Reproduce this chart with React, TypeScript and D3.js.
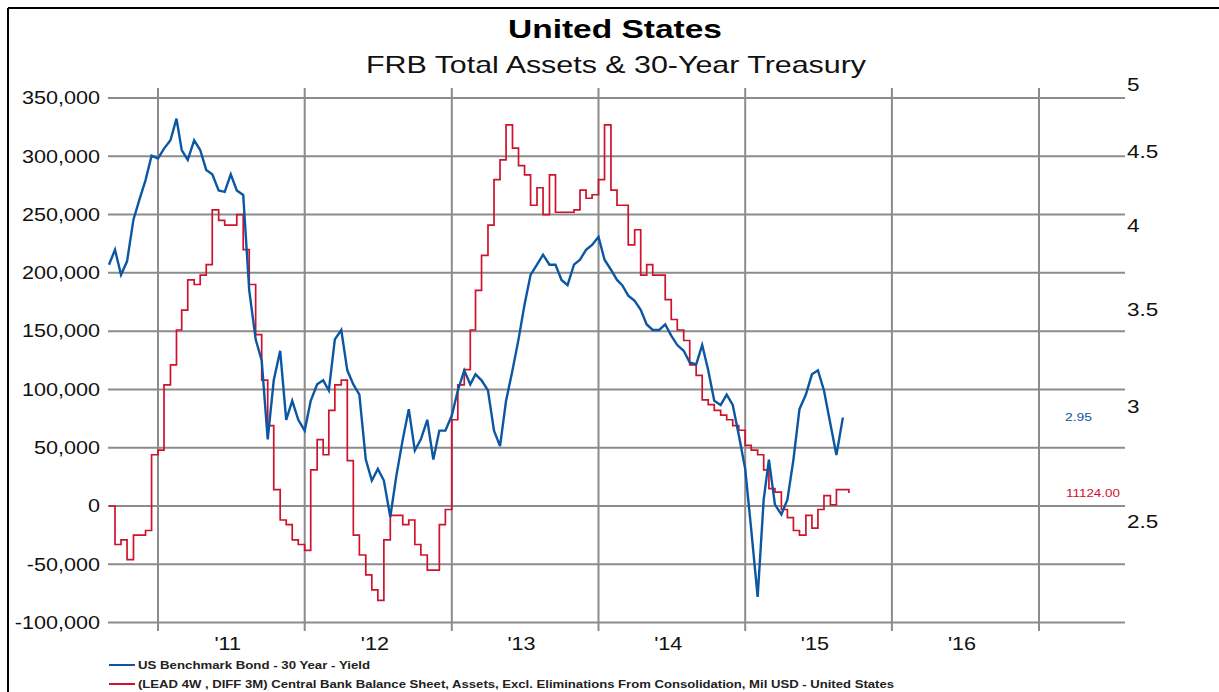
import React, { useEffect, useRef } from "react";
import * as d3 from "d3";

// semi-monthly readings (1st and 16th of each month) starting Sep 1 2010
const START_YEAR = 2010;
const START_MONTH = 8;

// US Benchmark Bond - 30 Year - Yield (right axis, %)
const yieldValues = [
  3.76, 3.85, 3.7, 3.78, 4.04, 4.17, 4.3, 4.47, 4.45, 4.52, 4.58, 4.74, 4.51, 4.44, 4.58, 4.51,
  4.37, 4.34, 4.23, 4.22, 4.34, 4.23, 4.2, 3.61, 3.34, 3.23, 2.85, 3.13, 3.28, 2.94, 3.03, 2.94,
  2.89, 3.03, 3.11, 3.13, 3.08, 3.34, 3.39, 3.18, 3.11, 3.06, 2.76, 2.67, 2.72, 2.67, 2.52, 2.69,
  2.85, 2.99, 2.8, 2.85, 2.94, 2.76, 2.89, 2.89, 2.96, 3.08, 3.18, 3.11, 3.16, 3.13, 3.08, 2.89,
  2.82, 3.03, 3.18, 3.34, 3.53, 3.7, 3.76, 3.82, 3.76, 3.76, 3.67, 3.64, 3.76, 3.79, 3.85, 3.88,
  3.93, 3.79, 3.73, 3.67, 3.64, 3.58, 3.55, 3.5, 3.42, 3.39, 3.39, 3.42, 3.36, 3.31, 3.28, 3.22,
  3.21, 3.31, 3.18, 3.03, 3.01, 3.06, 3.01, 2.87, 2.72, 2.47, 2.22, 2.59, 2.76, 2.57, 2.53, 2.59,
  2.76, 2.99, 3.06, 3.16, 3.18, 3.08, 2.92, 2.78, 2.95,
];

// (LEAD 4W, DIFF 3M) Central Bank Balance Sheet, Mil USD (left axis)
const assetValues = [
  0, -33000, -29000, -46000, -25000, -25000, -21000, 44000, 48000, 104000, 121000, 151000,
  168000, 194000, 190000, 198000, 207000, 254000, 245000, 241000, 241000, 250000, 220000, 190000,
  147000, 108000, 69000, 14000, -12000, -16000, -29000, -33000, -38000, 31000, 57000, 44000,
  82000, 104000, 108000, 39000, -25000, -42000, -59000, -72000, -81000, -29000, -8000, -8000,
  -16000, -12000, -33000, -42000, -55000, -55000, -16000, -3000, 74000, 104000, 117000, 151000,
  185000, 215000, 241000, 280000, 297000, 327000, 307000, 292000, 284000, 258000, 273000, 250000,
  284000, 252000, 252000, 252000, 254000, 271000, 264000, 267000, 280000, 327000, 271000, 258000,
  258000, 224000, 237000, 198000, 207000, 198000, 198000, 177000, 160000, 151000, 142000, 121000,
  112000, 91000, 87000, 82000, 78000, 74000, 69000, 65000, 52000, 48000, 44000, 31000,
  15000, 12000, -3000, -10000, -21000, -25000, -8000, -19000, -3000, 9000, 1000, 14000,
  14000, 11124,
];

const leftTicks = [350000, 300000, 250000, 200000, 150000, 100000, 50000, 0, -50000, -100000];
const leftTickLabels = ["350,000", "300,000", "250,000", "200,000", "150,000", "100,000", "50,000", "0", "-50,000", "-100,000"];
const rightTicks = [5, 4.5, 4, 3.5, 3, 2.5];
const rightTickLabels = ["5", "4.5", "4", "3.5", "3", "2.5"];
const gridYears = [2011, 2012, 2013, 2014, 2015, 2016, 2017];
const yearLabels = ["'11", "'12", "'13", "'14", "'15", "'16"];

const BLUE = "#0b57a3";
const RED = "#d0122c";
const GRID = "#8c8c8c";
const FONT = "'Liberation Sans', Arial, sans-serif";

function dateAt(i: number) {
  return new Date(START_YEAR, START_MONTH + Math.floor(i / 2), i % 2 ? 16 : 1);
}

export default function App() {
  const ref = useRef<SVGSVGElement>(null);

  useEffect(() => {
    const svg = d3.select(ref.current);
    svg.selectAll("*").remove();

    const W = 1219;
    const H = 692;
    const plotLeft = 108;
    const plotRight = 1125;

    const x = d3
      .scaleTime()
      .domain([new Date(2011, 0, 1), new Date(2017, 0, 1)])
      .range([158, 1039]);
    const yLeft = d3.scaleLinear().domain([-100000, 350000]).range([622.6, 98]);
    const yRight = d3.scaleLog().domain([2.5, 5]).range([522, 85]);

    svg.append("rect").attr("width", W).attr("height", H).attr("fill", "#fff");

    // frame
    svg.append("line").attr("x1", 8).attr("x2", W).attr("y1", 8).attr("y2", 8).attr("stroke", "#000").attr("stroke-width", 2);
    svg.append("line").attr("x1", 8).attr("x2", 8).attr("y1", 8).attr("y2", H).attr("stroke", "#000").attr("stroke-width", 2);

    // stretched text helper
    function label(tx: number, ty: number, str: string, size: number, anchor: string, color: string, sx: number, weight = "normal") {
      svg
        .append("text")
        .attr("transform", "translate(" + tx + "," + ty + ") scale(" + sx + ",1)")
        .attr("text-anchor", anchor)
        .attr("dominant-baseline", "central")
        .attr("font-family", FONT)
        .attr("font-size", size)
        .attr("font-weight", weight)
        .attr("fill", color)
        .text(str);
    }

    // titles
    svg.append("text").attr("x", 508).attr("y", 38).attr("textLength", 214).attr("lengthAdjust", "spacingAndGlyphs")
      .attr("font-family", FONT).attr("font-size", 26).attr("font-weight", "bold").attr("fill", "#000").text("United States");
    svg.append("text").attr("x", 366).attr("y", 73).attr("textLength", 500).attr("lengthAdjust", "spacingAndGlyphs")
      .attr("font-family", FONT).attr("font-size", 24).attr("fill", "#111").text("FRB Total Assets & 30-Year Treasury");

    // grid
    const grid = svg.append("g").attr("stroke", GRID).attr("stroke-width", 2);
    leftTicks.forEach((t) => {
      grid.append("line").attr("x1", plotLeft).attr("x2", plotRight).attr("y1", yLeft(t)).attr("y2", yLeft(t));
    });
    gridYears.forEach((yr) => {
      const gx = x(new Date(yr, 0, 1));
      grid.append("line").attr("x1", gx).attr("x2", gx).attr("y1", 88).attr("y2", 631);
    });

    // axis labels
    leftTicks.forEach((t, i) => label(100, yLeft(t), leftTickLabels[i], 18, "end", "#111", 1.2));
    rightTicks.forEach((t, i) => label(1127, yRight(t), rightTickLabels[i], 18, "start", "#111", 1.25));
    yearLabels.forEach((s, i) => label(x(new Date(2011 + i, 6, 1)) - 3, 644, s, 18, "middle", "#111", 1.2));

    // series
    const redLine = d3
      .line<number>()
      .x((d, i) => x(dateAt(i)))
      .y((d) => yLeft(d))
      .curve(d3.curveStepAfter);
    const blueLine = d3
      .line<number>()
      .x((d, i) => x(dateAt(i)))
      .y((d) => yRight(d));

    svg.append("path").attr("d", redLine(assetValues)).attr("fill", "none").attr("stroke", RED).attr("stroke-width", 1.7);
    svg.append("path").attr("d", blueLine(yieldValues)).attr("fill", "none").attr("stroke", BLUE).attr("stroke-width", 2.4)
      .attr("stroke-linejoin", "miter");

    // last-value labels
    const lastYield = yieldValues[yieldValues.length - 1];
    const lastAsset = assetValues[assetValues.length - 1];
    svg.append("text").attr("x", 1065).attr("y", yRight(lastYield)).attr("dominant-baseline", "central")
      .attr("textLength", 27).attr("lengthAdjust", "spacingAndGlyphs")
      .attr("font-family", FONT).attr("font-size", 10).attr("fill", BLUE).text(lastYield.toFixed(2));
    svg.append("text").attr("x", 1066).attr("y", yLeft(lastAsset)).attr("dominant-baseline", "central")
      .attr("textLength", 54).attr("lengthAdjust", "spacingAndGlyphs")
      .attr("font-family", FONT).attr("font-size", 10).attr("fill", RED).text(lastAsset.toFixed(2));

    // legend
    const legend = [
      { color: BLUE, text: "US Benchmark Bond - 30 Year - Yield", len: 232, y: 665 },
      {
        color: RED,
        text: "(LEAD 4W , DIFF 3M) Central Bank Balance Sheet, Assets, Excl. Eliminations From Consolidation, Mil USD - United States",
        len: 756,
        y: 684,
      },
    ];
    legend.forEach((l) => {
      svg.append("line").attr("x1", 109).attr("x2", 135).attr("y1", l.y).attr("y2", l.y).attr("stroke", l.color).attr("stroke-width", 2);
      svg.append("text").attr("x", 138).attr("y", l.y).attr("dominant-baseline", "central")
        .attr("textLength", l.len).attr("lengthAdjust", "spacingAndGlyphs")
        .attr("font-family", FONT).attr("font-size", 10).attr("font-weight", "bold").attr("fill", "#222").text(l.text);
    });
  }, []);

  return (
    <div style={{ position: "fixed", left: 0, top: 0 }}>
      <svg ref={ref} width={1219} height={692} style={{ display: "block" }} />
    </div>
  );
}
